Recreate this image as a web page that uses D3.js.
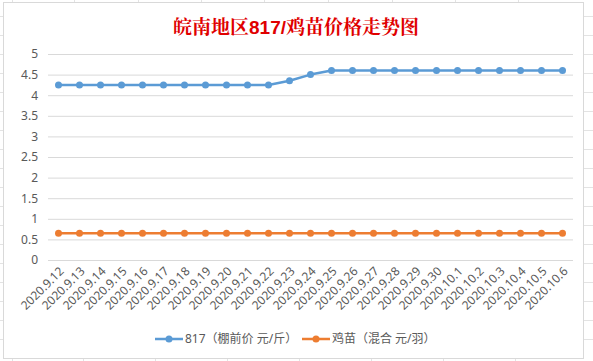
<!DOCTYPE html>
<html><head><meta charset="utf-8">
<script src="https://cdn.jsdelivr.net/npm/d3@7"></script>
<style>body{margin:0;background:#fff}svg{display:block}</style>
</head><body>
<script>
const dates = ["2020.9.12","2020.9.13","2020.9.14","2020.9.15","2020.9.16","2020.9.17","2020.9.18","2020.9.19","2020.9.20","2020.9.21","2020.9.22","2020.9.23","2020.9.24","2020.9.25","2020.9.26","2020.9.27","2020.9.28","2020.9.29","2020.9.30","2020.10.1","2020.10.2","2020.10.3","2020.10.4","2020.10.5","2020.10.6"];
const price817 = [4.25,4.25,4.25,4.25,4.25,4.25,4.25,4.25,4.25,4.25,4.25,4.35,4.5,4.6,4.6,4.6,4.6,4.6,4.6,4.6,4.6,4.6,4.6,4.6,4.6];
const chickPrice = [0.65,0.65,0.65,0.65,0.65,0.65,0.65,0.65,0.65,0.65,0.65,0.65,0.65,0.65,0.65,0.65,0.65,0.65,0.65,0.65,0.65,0.65,0.65,0.65,0.65];
const yTicks = [0,0.5,1,1.5,2,2.5,3,3.5,4,4.5,5];
const seriesNames = ["817（棚前价 元/斤）","鸡苗（混合 元/羽）"];
const titleParts = ["皖南地区","817/","鸡苗价格走势图"];

const W=593,H=361;
const font = "'Noto Sans','Noto Sans CJK SC',sans-serif";
const serif = "'Noto Serif CJK SC','Noto Sans CJK SC',serif";
const svg = d3.select("body").append("svg").attr("width",W).attr("height",H);

// Excel sheet gridlines outside chart
const bg = svg.append("g").attr("stroke","#e3e3e3").attr("stroke-width",1);
[12,74,138,201,264,328,392,455,518].forEach(x=>bg.append("line").attr("x1",x+.5).attr("x2",x+.5).attr("y1",0).attr("y2",3));
[12,83,155,227,299,371,443,515].forEach(x=>bg.append("line").attr("x1",x+.5).attr("x2",x+.5).attr("y1",359).attr("y2",361));
[16,35,54,73,92,111,130,149,168,187,206,225,244,263,282,301,320,339].forEach(y=>{
  bg.append("line").attr("x1",0).attr("x2",3).attr("y1",y+.5).attr("y2",y+.5);
  bg.append("line").attr("x1",584).attr("x2",593).attr("y1",y+.5).attr("y2",y+.5);
});
svg.append("rect").attr("x",3.5).attr("y",2.5).attr("width",580).attr("height",356)
  .attr("fill","#fff").attr("stroke","#d9d9d9");

const x = d3.scaleBand().domain(dates).range([48,573]);
const y = d3.scaleLinear().domain([0,5]).range([260,54]);

// title
const tt = svg.append("text").attr("x",296).attr("y",34).attr("text-anchor","middle")
  .attr("font-weight","bold").attr("font-size",19).attr("fill","#e00000");
titleParts.forEach((t,i)=>tt.append("tspan").attr("font-family", i===1 ? "'Liberation Sans',Arial,sans-serif" : serif).text(t));

// grid
const yAxis = d3.axisLeft(y).tickValues(yTicks).tickSize(-(573-48)).tickPadding(10).tickFormat(d3.format("~g"));
const gy = svg.append("g").attr("transform","translate(48,0)").call(yAxis);
gy.select(".domain").remove();
gy.selectAll(".tick line").attr("stroke","#d9d9d9");
gy.selectAll(".tick text").attr("font-family",font).attr("font-size",12).attr("fill","#595959");

const xAxis = d3.axisBottom(x).tickSize(0).tickPadding(0);
const gx = svg.append("g").attr("transform","translate(0,260)").call(xAxis);
gx.select(".domain").remove();
gx.selectAll(".tick text").attr("font-family",font).attr("font-size",12).attr("fill","#595959")
  .attr("text-anchor","end").attr("dy",0).attr("y",0)
  .attr("transform","translate(6,12) rotate(-45)");

const series = [{v:price817,c:"#5b9bd5"},{v:chickPrice,c:"#ed7d31"}];
series.forEach(s=>{
  const line = d3.line().x((d,i)=>x(dates[i])+x.bandwidth()/2).y(d=>y(d));
  svg.append("path").datum(s.v).attr("d",line).attr("fill","none").attr("stroke",s.c).attr("stroke-width",2.5).attr("stroke-linejoin","round");
  svg.append("g").selectAll("circle").data(s.v).join("circle")
    .attr("cx",(d,i)=>x(dates[i])+x.bandwidth()/2).attr("cy",d=>y(d)).attr("r",3.5).attr("fill",s.c);
});

// legend
const leg = [{x:155,c:"#5b9bd5",t:seriesNames[0]},{x:302,c:"#ed7d31",t:seriesNames[1]}];
leg.forEach(l=>{
  const g = svg.append("g").attr("transform",`translate(${l.x},339)`);
  g.append("line").attr("x1",0).attr("x2",28).attr("stroke",l.c).attr("stroke-width",2.5);
  g.append("circle").attr("cx",14).attr("r",3.5).attr("fill",l.c);
  g.append("text").attr("x",30).attr("dy","0.35em").attr("font-family",font).attr("font-size",12).attr("fill","#595959").text(l.t);
});
</script>
</body></html>
